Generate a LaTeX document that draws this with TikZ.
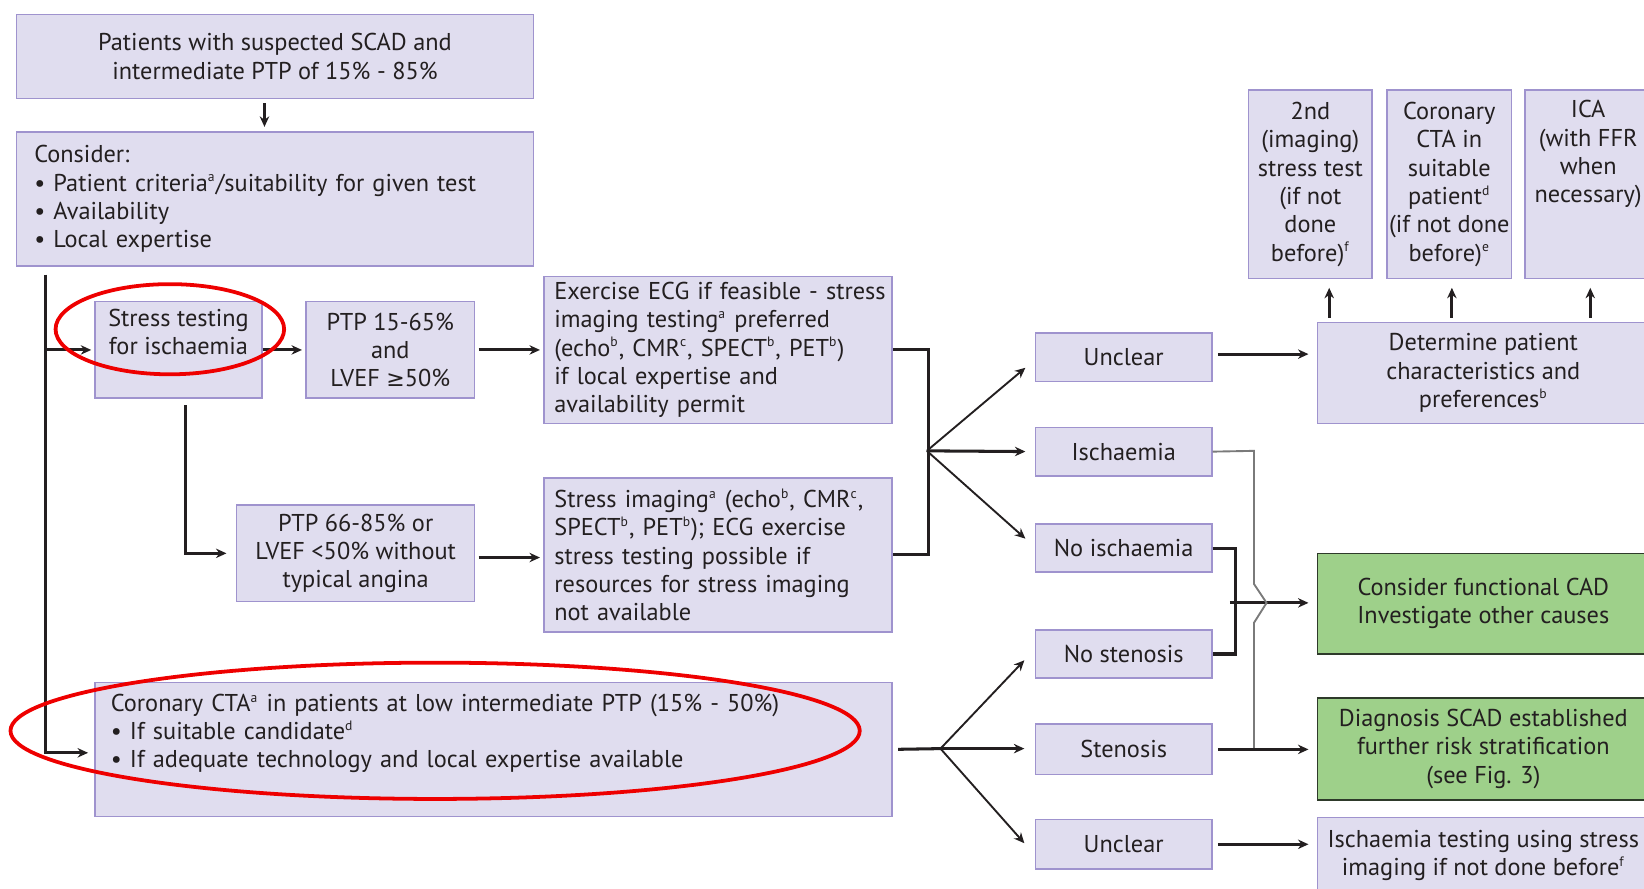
\documentclass[tikz,border=0pt]{standalone}
\usepackage{fontspec}
\setmainfont{PT Sans}
\newfontfamily\symf{DejaVu Sans}
\usetikzlibrary{arrows.meta,calc}
\definecolor{boxfill}{HTML}{E0DDEF}
\definecolor{boxline}{HTML}{9F93CE}
\definecolor{greenfill}{HTML}{9ED08A}
\definecolor{greenline}{HTML}{2E3A2A}
\definecolor{txt}{HTML}{231F20}
\definecolor{ellred}{HTML}{EE0000}
\definecolor{grayln}{HTML}{7A7A7A}
\newcommand{\fsz}{\fontsize{11.6}{13.5}\selectfont}
\newcommand{\supx}[1]{\textsuperscript{\fontsize{6.5}{7}\selectfont #1}}
\begin{document}
\begin{tikzpicture}[x=0.5pt,y=-0.5pt,
  box/.style={draw=boxline, fill=boxfill, line width=0.75pt, inner sep=0pt, text=txt, font=\fsz, align=center, anchor=north west},
  sbox/.style={box, minimum width=84pt, minimum height=23pt},
  gbox/.style={box, draw=greenline, fill=greenfill},
  thk/.style={line width=1.45pt, draw=txt},
  arr/.style={thk, -{Stealth[length=5pt,width=4.5pt]}},
  arrthin/.style={line width=0.9pt, draw=txt, -{Stealth[length=5pt,width=4.5pt]}},
  grayl/.style={line width=0.9pt, draw=grayln},
  ell/.style={draw=ellred, line width=1.8pt}
]
\useasboundingbox (0,0) rectangle (1568,847);

% left column
\node[box, minimum width=246.5pt, minimum height=40pt] (top) at (15,13) {Patients with suspected SCAD and\\intermediate PTP of 15\% - 85\%};
\node[box, align=left, text width=229.5pt, inner xsep=8.5pt, minimum width=246.5pt, minimum height=64pt] (consider) at (15,125) {Consider:\\\mbox{• Patient criteria\supx{a}/suitability for given test}\\• Availability\\• Local expertise};
\node[box, minimum width=79.5pt, minimum height=46pt] (stress) at (90,287) {Stress testing\\for ischaemia\\\strut};
\node[box, minimum width=80.5pt, minimum height=46pt] (ptp15) at (291,287) {PTP 15-65\%\\and\\LVEF {\symf\fontsize{10.5}{13.5}\selectfont ≥}50\%};
\node[box, align=left, text width=156pt, inner xsep=5pt, minimum width=166pt, minimum height=70pt] (ecg) at (518,263) {\mbox{Exercise ECG if feasible - stress}\\\mbox{imaging testing\supx{a} preferred}\\\mbox{(echo\supx{b}, CMR\supx{c}, SPECT\supx{b}, PET\supx{b})}\\if local expertise and\\availability permit};
\node[box, minimum width=113.5pt, minimum height=46pt] (ptp66) at (225,481) {PTP 66-85\% or\\LVEF <50\% without\\typical angina};
\node[box, align=left, text width=156pt, inner xsep=5pt, minimum width=166pt, minimum height=73.5pt] (simg) at (518,455) {\mbox{Stress imaging\supx{a} (echo\supx{b}, CMR\supx{c},}\\\mbox{SPECT\supx{b}, PET\supx{b}); ECG exercise}\\\mbox{stress testing possible if}\\\mbox{resources for stress imaging}\\not available};
\node[box, align=left, text width=365pt, inner xsep=7.5pt, minimum width=380pt, minimum height=64pt] (cta) at (90,650) {\mbox{Coronary CTA\supx{a} in patients at low intermediate PTP (15\% - 50\%)}\\• If suitable candidate\supx{d}\\\mbox{• If adequate technology and local expertise available}\\\strut};

% results
\node[sbox] (unclear1) at (987,317) {Unclear};
\node[sbox] (isch) at (987,407) {Ischaemia};
\node[sbox] (noisch) at (987,499) {No ischaemia};
\node[sbox] (nosten) at (987,600) {No stenosis};
\node[sbox, minimum height=24pt] (sten) at (987,690) {Stenosis};
\node[sbox, minimum height=23.5pt] (unclear2) at (987,781) {Unclear};

% right column
\node[box, minimum width=59pt, minimum height=90pt] (second) at (1190,85) {2nd\\(imaging)\\stress test\\(if not\\done\\before)\supx{f}};
\node[box, minimum width=59.5pt, minimum height=90pt] (coronary) at (1322,85) {Coronary\\CTA in\\suitable\\patient\supx{d}\\(if not done\\before)\supx{e}};
\node[box, minimum width=60pt, minimum height=90pt] (ica) at (1454,85) {ICA\\(with FFR\\when\\necessary)\\\strut\\\strut};
\node[box, minimum width=158pt, minimum height=48pt] (determine) at (1256,307) {Determine patient\\characteristics and\\preferences\supx{b}};
\node[gbox, minimum width=158pt, minimum height=48pt] (green1) at (1256,527) {Consider functional CAD\\Investigate other causes};
\node[gbox, minimum width=158pt, minimum height=48.5pt] (green2) at (1256,665) {Diagnosis SCAD established\\further risk stratification\\(see Fig. 3)};
\node[box, minimum width=158pt, minimum height=36pt] (ischtest) at (1256,779) {Ischaemia testing using stress\\imaging if not done before\supx{f}};

% connectors left
\draw[arr, shorten <=2pt, shorten >=2pt] ([xshift=-5pt]top.south) -- ([xshift=-5pt]consider.north);
\coordinate (t0) at (43,262);
\coordinate (t1) at (43,718);
\draw[arr, shorten >=3pt] (t0) -- (t1) -- (t1 -| cta.west);
\draw[arr, shorten >=1.5pt] (t0 |- stress.west) -- (stress.west);
\draw[arr, shorten >=1.5pt] (stress.east) -- (ptp15.west);
\draw[arr, shorten <=1.5pt, shorten >=1.5pt] (ptp15.east) -- (ptp15.east -| ecg.west);
\coordinate (s0) at ([xshift=3.25pt,yshift=-3pt]stress.south);
\draw[arr, shorten >=4.5pt] (s0) |- (ptp66.west);
\draw[arr, shorten <=1.5pt, shorten >=1.5pt] ([yshift=-2pt]ptp66.east) -- ([yshift=-2pt]ptp66.east -| simg.west);

% bracket and branches (stress tests)
\draw[thk] (ecg.east) -- ++(17pt,0) |- (simg.east);
\coordinate (j1) at (884,430);
\draw[arrthin] (j1) -- ([xshift=-4.5pt,yshift=-5pt]unclear1.west);
\draw[arr, shorten >=4.5pt] (j1) -- (isch.west);
\draw[arrthin] (j1) -- ([xshift=-4.5pt,yshift=4.5pt]noisch.west);

% CTA branches
\coordinate (j2) at (897,714);
\draw[thk, shorten <=2.5pt] (cta.east) -- (j2);
\draw[arrthin] (j2) -- ([xshift=-5pt,yshift=-3pt]nosten.west);
\draw[arr, shorten >=5pt] (j2) -- (j2 -| sten.west);
\draw[arrthin] (j2) -- ([xshift=-5pt,yshift=0.5pt]unclear2.west);

% right connectors
\draw[arr, shorten <=2.5pt, shorten >=4pt] ([yshift=1.5pt]unclear1.east) -- ([yshift=1.5pt]unclear1.east -| determine.west);
\draw[thk] (noisch.east) -- ++(11pt,0) |- (nosten.east);
\coordinate (j3) at (1173,575);
\draw[arr, shorten >=4pt] (j3) -- (j3 -| green1.west);
\draw[grayl] (isch.east) -- (1196,430) -- (1196,557) -- (1208,575) -- (1196,594) -- (1196,714);
\draw[arr, shorten <=2.5pt, shorten >=4pt] (sten.east) -- (sten.east -| green2.west);
\draw[arr, shorten <=2.5pt, shorten >=4pt] (unclear2.east) -- (unclear2.east -| ischtest.west);

% arrows up to the options
\coordinate (a1) at ([xshift=9pt]second.south);
\coordinate (a2) at ([xshift=1.25pt]coronary.south);
\coordinate (a3) at ([xshift=1pt]ica.south);
\draw[arr, shorten <=2pt, shorten >=4pt] (a1 |- determine.north) -- (a1);
\draw[arr, shorten <=2pt, shorten >=4pt] (a2 |- determine.north) -- (a2);
\draw[arr, shorten <=2pt, shorten >=4pt] (a3 |- determine.north) -- (a3);

% red highlights
\draw[ell] (162,314) ellipse [x radius=54.5pt, y radius=21.5pt];
\draw[ell] (415,697) ellipse [x radius=202.5pt, y radius=32.5pt];
\end{tikzpicture}
\end{document}
